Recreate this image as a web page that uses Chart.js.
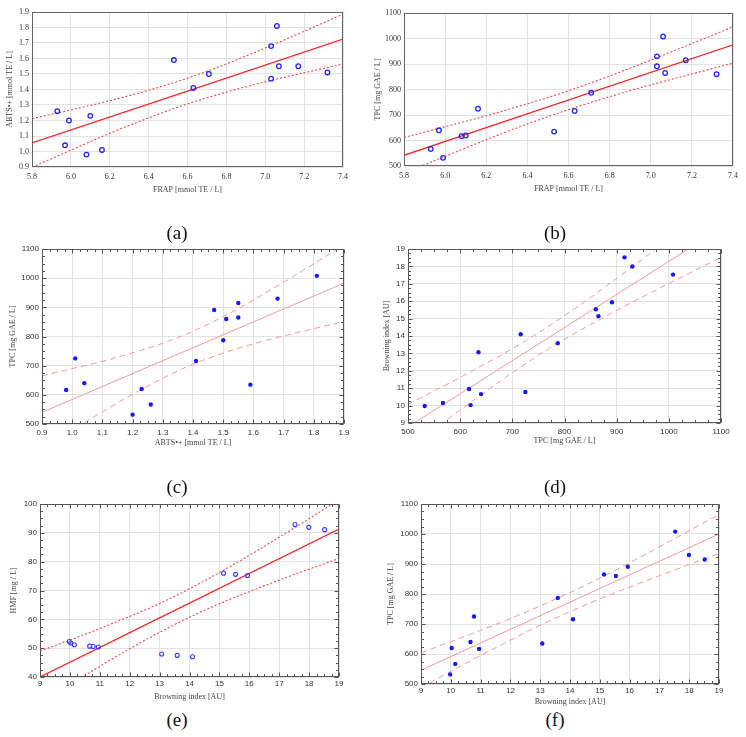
<!DOCTYPE html>
<html><head><meta charset="utf-8">
<script src="https://cdn.jsdelivr.net/npm/chart.js@4.4.1/dist/chart.umd.min.js"></script>
<style>
html,body{margin:0;padding:0;background:#fff;}
body{width:746px;height:737px;position:relative;overflow:hidden;}
canvas{position:absolute;}
.lab{position:absolute;width:60px;margin-left:-30px;text-align:center;font-family:"Liberation Serif",serif;font-size:19px;color:#111;line-height:20px;}
</style></head><body>
<canvas id="ca" width="373" height="195" style="left:0;top:0"></canvas>
<canvas id="cb" width="373" height="194" style="left:373px;top:0"></canvas>
<canvas id="cc" width="373" height="208" style="left:0;top:240px"></canvas>
<canvas id="cd" width="373" height="206" style="left:373px;top:240px"></canvas>
<canvas id="ce" width="373" height="222" style="left:0;top:480px"></canvas>
<canvas id="cf" width="373" height="227" style="left:373px;top:480px"></canvas>
<div class="lab" style="left:177px;top:223px">(a)</div>
<div class="lab" style="left:555px;top:223px">(b)</div>
<div class="lab" style="left:177px;top:477px">(c)</div>
<div class="lab" style="left:555px;top:477px">(d)</div>
<div class="lab" style="left:177px;top:710px">(e)</div>
<div class="lab" style="left:555px;top:710px">(f)</div>
<script>
// ---- sample values (15 samples) ----
const FRAP     = [5.93, 5.97, 5.99, 6.08, 6.10, 6.16, 6.53, 6.63, 6.71, 7.03, 7.03, 7.06, 7.07, 7.17, 7.32];
const ABTS     = [1.26, 1.04, 1.20, 0.98, 1.23, 1.01, 1.59, 1.41, 1.50, 1.68, 1.47, 1.81, 1.55, 1.55, 1.51];
const TPC      = [567, 640, 532, 617, 620, 725, 635, 716, 787, 930, 891, 1008, 865, 915, 860];
const BROWNING = [10.15, 10.66, 9.98, 10.95, 10.03, 10.78, 13.07, 14.10, 13.59, 17.99, 15.94, 17.53, 15.14, 18.52, 15.54];
const HMF      = [51.2, 50.7, 52.3, 50.4, 51.8, 50.6, 48.0, 47.0, 47.5, 91.9, 75.2, 92.9, 76.0, 91.1, 75.6];

// ---- tick values ----
const TICKS_FRAP   = [5.8, 6.0, 6.2, 6.4, 6.6, 6.8, 7.0, 7.2, 7.4];
const TICKS_ABTS   = [0.9, 1.0, 1.1, 1.2, 1.3, 1.4, 1.5, 1.6, 1.7, 1.8, 1.9];
const TICKS_TPC    = [500, 600, 700, 800, 900, 1000, 1100];
const TICKS_BI     = [9, 10, 11, 12, 13, 14, 15, 16, 17, 18, 19];
const TICKS_HMF    = [40, 50, 60, 70, 80, 90, 100];

// ---- fitted lines and 95% bands ----
const FIT_X_A = [5.8, 7.4];   const FIT_A = [1.055, 1.725];
const BAND_X_A = [5.8, 6.0, 6.2, 6.4, 6.6, 6.8, 7.0, 7.2, 7.4];
const UP_A = [1.212, 1.268, 1.328, 1.395, 1.473, 1.565, 1.667, 1.775, 1.886];
const LO_A = [0.898, 1.009, 1.117, 1.217, 1.307, 1.383, 1.449, 1.508, 1.564];

const FIT_X_B = [5.8, 7.4];   const FIT_B = [542, 975];
const BAND_X_B = [5.8, 6.0, 6.2, 6.4, 6.6, 6.8, 7.0, 7.2, 7.4];
const UP_B = [612, 654, 697, 744, 795, 853, 915, 980, 1046];
const LO_B = [472, 538, 603, 665, 721, 772, 818, 861, 903];

const FIT_X_C = [0.9, 1.9];   const FIT_C = [540, 983];
const BAND_X_C = [0.9, 1.0, 1.1, 1.2, 1.3, 1.4, 1.5, 1.6, 1.7, 1.8, 1.9];
const UP_C = [665, 690, 715, 744, 777, 818, 868, 925, 986, 1049, 1114];
const LO_C = [414, 479, 542, 602, 657, 705, 743, 775, 802, 827, 851];

const FIT_X_D = [500, 1100];  const FIT_D = [8.78, 20.19];
const BAND_X_D = [500, 550, 600, 650, 700, 750, 800, 850, 900, 950, 1000, 1050, 1100];
const UP_D = [10.08, 10.84, 11.62, 12.43, 13.27, 14.18, 15.17, 16.21, 17.31, 18.43, 19.56, 20.71, 21.86];
const LO_D = [7.48, 8.62, 9.74, 10.84, 11.89, 12.89, 13.81, 14.66, 15.47, 16.25, 17.02, 17.77, 18.52];

const FIT_X_E = [9, 19];      const FIT_E = [40, 91.3];
const BAND_X_E = [9, 10, 11, 12, 13, 14, 15, 16, 17, 18, 19];
const UP_E = [49.0, 52.8, 56.8, 61.0, 65.5, 70.6, 76.2, 82.2, 88.5, 94.9, 101.5];
const LO_E = [31.0, 37.4, 43.7, 49.8, 55.5, 60.7, 65.4, 69.6, 73.6, 77.4, 81.1];

const FIT_X_F = [9, 19];      const FIT_F = [546, 1000];
const BAND_X_F = [9, 10, 11, 12, 13, 14, 15, 16, 17, 18, 19];
const UP_F = [604, 641, 679, 718, 760, 805, 853, 904, 957, 1011, 1065];
const LO_F = [488, 542, 595, 646, 696, 741, 784, 823, 861, 898, 935];

function pairs(xs, ys) { return xs.map((x, i) => ({x: x, y: ys[i]})); }

const framePlugin = {
  id: 'frame',
  afterDatasetsDraw(chart, args, opts) {
    const a = chart.chartArea, ctx = chart.ctx;
    const L = Math.round(a.left) + 0.5, R = Math.round(a.right) - 0.5;
    const T = Math.round(a.top) + 0.5, B = Math.round(a.bottom) - 0.5;
    ctx.save();
    ctx.strokeStyle = opts.color || '#555';
    ctx.lineWidth = 1;
    ctx.strokeRect(L, T, R - L, B - T);
    if (opts.minor) {
      const xs = chart.scales.x, ys = chart.scales.y;
      const xt = opts.xTicks, yt = opts.yTicks, n = 4;
      ctx.beginPath();
      for (let i = 0; i < xt.length; i++) {
        for (let k = 0; k < n; k++) {
          if (i === xt.length - 1 && k > 0) break;
          const v = (i < xt.length - 1) ? xt[i] + (xt[i + 1] - xt[i]) * k / n : xt[i];
          const p = Math.round(xs.getPixelForValue(v)) + 0.5;
          const len = k === 0 ? 4 : 2.5;
          ctx.moveTo(p, B); ctx.lineTo(p, B - len);
          ctx.moveTo(p, T); ctx.lineTo(p, T + len);
        }
      }
      for (let i = 0; i < yt.length; i++) {
        for (let k = 0; k < n; k++) {
          if (i === yt.length - 1 && k > 0) break;
          const v = (i < yt.length - 1) ? yt[i] + (yt[i + 1] - yt[i]) * k / n : yt[i];
          const p = Math.round(ys.getPixelForValue(v)) + 0.5;
          const len = k === 0 ? 4 : 2.5;
          ctx.moveTo(L, p); ctx.lineTo(L + len, p);
          ctx.moveTo(R, p); ctx.lineTo(R - len, p);
        }
      }
      ctx.stroke();
    }
    ctx.restore();
  }
};

const STYLES = {
  open: {
    pt: {pointRadius: 2.3, pointBorderWidth: 1.3, pointBackgroundColor: 'rgba(0,0,0,0)', pointBorderColor: '#2424ff'},
    fit: {borderColor: '#f02c2c', borderWidth: 1.3},
    band: {borderColor: '#f04848', borderWidth: 1.1, borderDash: [2, 2]},
    tickFont: '"Liberation Serif", serif', minor: false, frame: '#666'
  },
  filled: {
    pt: {pointRadius: 2.2, pointBorderWidth: 0, pointBackgroundColor: '#1818ff', pointBorderColor: '#1818ff'},
    fit: {borderColor: '#f39a9a', borderWidth: 1},
    band: {borderColor: '#f39a9a', borderWidth: 1, borderDash: [6, 4]},
    tickFont: '"Liberation Sans", Arial, sans-serif', minor: true, frame: '#555'
  },
  openSans: {
    pt: {pointRadius: 2.0, pointBorderWidth: 1.1, pointBackgroundColor: 'rgba(0,0,0,0)', pointBorderColor: '#3a3aff'},
    fit: {borderColor: '#f02c2c', borderWidth: 1.3},
    band: {borderColor: '#f04848', borderWidth: 1.1, borderDash: [2, 2]},
    tickFont: '"Liberation Sans", Arial, sans-serif', minor: true, frame: '#555'
  }
};

function panel(id, o) {
  const st = STYLES[o.style];
  const lineBase = {type: 'line', pointRadius: 0, fill: false, cubicInterpolationMode: 'monotone'};
  new Chart(document.getElementById(id), {
    type: 'scatter',
    data: {
      datasets: [
        Object.assign({data: pairs(o.xs, o.ys)}, st.pt),
        Object.assign({}, lineBase, st.fit, {data: pairs(o.fitX, o.fitY)}),
        Object.assign({}, lineBase, st.band, {data: pairs(o.bandX, o.up)}),
        Object.assign({}, lineBase, st.band, {data: pairs(o.bandX, o.lo)})
      ]
    },
    options: {
      responsive: false, animation: false, devicePixelRatio: 1,
      layout: {padding: {left: 0, right: o.padR, top: o.padT, bottom: 0}},
      plugins: {legend: {display: false}, tooltip: {enabled: false},
        frame: {color: st.frame, minor: st.minor, xTicks: o.xTicks, yTicks: o.yTicks}},
      scales: {
        x: {
          type: 'linear', min: o.xTicks[0], max: o.xTicks[o.xTicks.length - 1],
          afterBuildTicks: s => { s.ticks = o.xTicks.map(v => ({value: v})); },
          afterFit: s => { s.height = o.xH; },
          grid: {color: '#e2e2e2', lineWidth: 1, drawTicks: false},
          border: {display: false},
          ticks: {font: {family: st.tickFont, size: 8}, color: '#333', padding: o.xPad, maxRotation: 0,
                  callback: v => Number(v).toFixed(o.xDec)},
          title: {display: true, text: o.xTitle, color: '#444', padding: {top: 0, bottom: 0},
                  font: {family: '"Liberation Serif", serif', size: 8}}
        },
        y: {
          type: 'linear', min: o.yTicks[0], max: o.yTicks[o.yTicks.length - 1],
          afterBuildTicks: s => { s.ticks = o.yTicks.map(v => ({value: v})); },
          afterFit: s => { s.width = o.yW; },
          grid: {color: '#e2e2e2', lineWidth: 1, drawTicks: false},
          border: {display: false},
          ticks: {font: {family: st.tickFont, size: 8}, color: '#333', padding: 3,
                  callback: v => Number(v).toFixed(o.yDec)},
          title: {display: true, text: o.yTitle, color: '#444', padding: {top: o.yTitlePad, bottom: 0},
                  font: {family: '"Liberation Serif", serif', size: 8}}
        }
      }
    },
    plugins: [framePlugin]
  });
}

panel('ca', {style: 'open', xs: FRAP, ys: ABTS, fitX: FIT_X_A, fitY: FIT_A, bandX: BAND_X_A, up: UP_A, lo: LO_A,
  xTicks: TICKS_FRAP, yTicks: TICKS_ABTS, xDec: 1, yDec: 1,
  xTitle: 'FRAP [mmol TE / L]', yTitle: 'ABTS•+ [mmol TE / L]',
  yW: 32, padR: 30, padT: 12, xH: 28, xPad: 5, yTitlePad: 5});
panel('cb', {style: 'open', xs: FRAP, ys: TPC, fitX: FIT_X_B, fitY: FIT_B, bandX: BAND_X_B, up: UP_B, lo: LO_B,
  xTicks: TICKS_FRAP, yTicks: TICKS_TPC, xDec: 1, yDec: 0,
  xTitle: 'FRAP [mmol TE / L]', yTitle: 'TPC [mg GAE / L]',
  yW: 31, padR: 13, padT: 13, xH: 28, xPad: 5, yTitlePad: 0});
panel('cc', {style: 'filled', xs: ABTS, ys: TPC, fitX: FIT_X_C, fitY: FIT_C, bandX: BAND_X_C, up: UP_C, lo: LO_C,
  xTicks: TICKS_ABTS, yTicks: TICKS_TPC, xDec: 1, yDec: 0,
  xTitle: 'ABTS•+ [mmol TE / L]', yTitle: 'TPC [mg GAE / L]',
  yW: 42, padR: 29, padT: 9, xH: 24, xPad: 4, yTitlePad: 8});
panel('cd', {style: 'filled', xs: TPC, ys: BROWNING, fitX: FIT_X_D, fitY: FIT_D, bandX: BAND_X_D, up: UP_D, lo: LO_D,
  xTicks: TICKS_TPC, yTicks: TICKS_BI, xDec: 0, yDec: 0,
  xTitle: 'TPC [mg GAE / L]', yTitle: 'Browning index [AU]',
  yW: 35, padR: 25, padT: 9, xH: 23, xPad: 4, yTitlePad: 9});
panel('ce', {style: 'openSans', xs: BROWNING, ys: HMF, fitX: FIT_X_E, fitY: FIT_E, bandX: BAND_X_E, up: UP_E, lo: LO_E,
  xTicks: TICKS_BI, yTicks: TICKS_HMF, xDec: 0, yDec: 0,
  xTitle: 'Browning index [AU]', yTitle: 'HMF [mg / L]',
  yW: 40, padR: 34, padT: 24, xH: 25, xPad: 2, yTitlePad: 9});
panel('cf', {style: 'filled', xs: BROWNING, ys: TPC, fitX: FIT_X_F, fitY: FIT_F, bandX: BAND_X_F, up: UP_F, lo: LO_F,
  xTicks: TICKS_BI, yTicks: TICKS_TPC, xDec: 0, yDec: 0,
  xTitle: 'Browning index [AU]', yTitle: 'TPC [mg GAE / L]',
  yW: 48, padR: 27, padT: 24, xH: 23, xPad: 2, yTitlePad: 13});
</script>
</body></html>
